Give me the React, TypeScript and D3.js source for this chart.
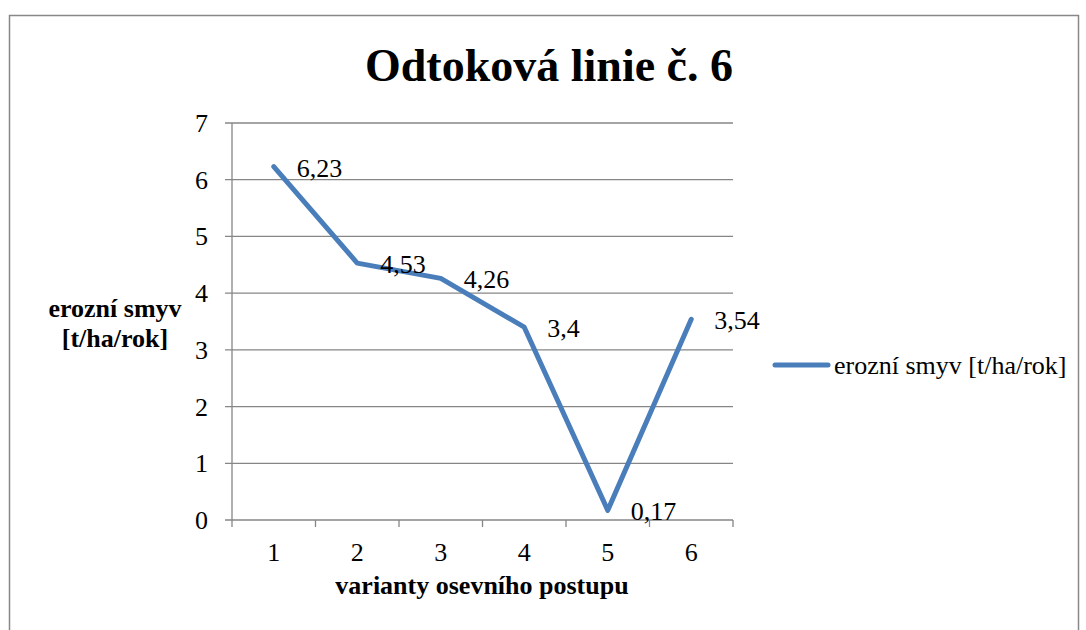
import * as d3 from 'd3';

// values
const categories = ['1', '2', '3', '4', '5', '6'];
const values = [6.23, 4.53, 4.26, 3.4, 0.17, 3.54];
const valueLabels = ['6,23', '4,53', '4,26', '3,4', '0,17', '3,54'];
const yTicks = [0, 1, 2, 3, 4, 5, 6, 7];
const seriesName = 'erozní smyv [t/ha/rok]';

export default function App() {
    const width = 1086;
    const height = 630;
    const plot = { left: 232, right: 733, top: 123, bottom: 520 };
    const font = "'Liberation Serif', 'Times New Roman', serif";
    const gridColor = '#868686';
    const lineColor = '#4A7EBB';

    const x = d3
        .scaleBand()
        .domain(categories)
        .range([plot.left, plot.right]);

    const y = d3.scaleLinear().domain([0, 7]).range([plot.bottom, plot.top]);

    const line = d3
        .line<number>()
        .x((_, i) => x(categories[i])! + x.bandwidth() / 2)
        .y((d) => y(d));

    const tickXs = categories.map((c) => x(c)!).concat([plot.right]);

    return (
        <svg
            width={width}
            height={height}
            style={{
                position: 'absolute',
                left: 0,
                top: 0,
                background: '#fff',
                fontFamily: font,
            }}
        >
            <rect
                x={9.5}
                y={15.5}
                width={1069}
                height={700}
                fill='#fff'
                stroke='#888'
                strokeWidth={1.5}
            />
            <text
                x={549}
                y={81}
                textAnchor='middle'
                fontSize={46}
                fontWeight='bold'
            >
                Odtoková linie č. 6
            </text>

            {/* gridlines + y ticks */}
            {yTicks.map((t) => (
                <g key={`y-${t}`}>
                    <line
                        x1={plot.left - 7}
                        x2={plot.right}
                        y1={y(t)}
                        y2={y(t)}
                        stroke={gridColor}
                        strokeWidth={1.3}
                    />
                    <text
                        x={208}
                        y={y(t) + 9}
                        textAnchor='end'
                        fontSize={26}
                    >
                        {t}
                    </text>
                </g>
            ))}
            <line
                x1={plot.left}
                x2={plot.left}
                y1={plot.top}
                y2={plot.bottom}
                stroke={gridColor}
                strokeWidth={1.3}
            />

            {/* x axis ticks and labels */}
            {tickXs.map((tx, i) => (
                <line
                    key={`xt-${i}`}
                    x1={tx}
                    x2={tx}
                    y1={plot.bottom}
                    y2={plot.bottom + 7}
                    stroke={gridColor}
                    strokeWidth={1.3}
                />
            ))}
            {categories.map((c) => (
                <text
                    key={`xl-${c}`}
                    x={x(c)! + x.bandwidth() / 2}
                    y={561}
                    textAnchor='middle'
                    fontSize={26}
                >
                    {c}
                </text>
            ))}

            <text
                x={482}
                y={594}
                textAnchor='middle'
                fontSize={26}
                fontWeight='bold'
            >
                varianty osevního postupu
            </text>
            <text textAnchor='middle' fontSize={26} fontWeight='bold'>
                <tspan x={115} y={317}>
                    erozní smyv
                </tspan>
                <tspan x={115} y={347}>
                    [t/ha/rok]
                </tspan>
            </text>

            <path
                d={line(values) ?? ''}
                fill='none'
                stroke={lineColor}
                strokeWidth={5}
                strokeLinejoin='round'
                strokeLinecap='round'
            />

            {values.map((v, i) => (
                <text
                    key={`dl-${i}`}
                    x={x(categories[i])! + x.bandwidth() / 2 + 23}
                    y={y(v) + 10}
                    fontSize={26}
                >
                    {valueLabels[i]}
                </text>
            ))}

            {/* legend */}
            <line
                x1={775}
                x2={828}
                y1={365}
                y2={365}
                stroke={lineColor}
                strokeWidth={5}
                strokeLinecap='round'
            />
            <text x={834} y={374} fontSize={26}>
                {seriesName}
            </text>
        </svg>
    );
}
